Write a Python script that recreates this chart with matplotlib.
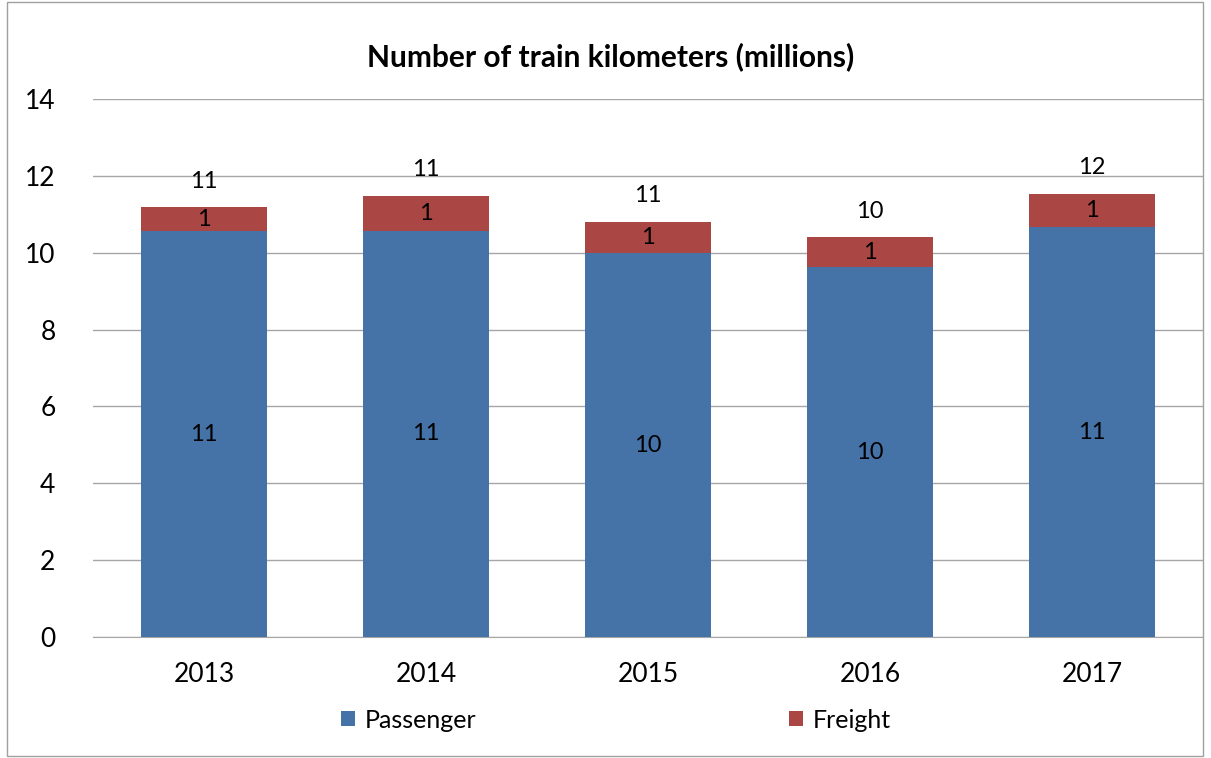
import matplotlib
matplotlib.use("Agg")
import matplotlib.pyplot as plt
from matplotlib.patches import Rectangle

plt.rcParams['font.family'] = ['Lato', 'DejaVu Sans']

years = ['2013', '2014', '2015', '2016', '2017']
passenger = [10.56, 10.57, 9.98, 9.62, 10.66]
freight = [0.62, 0.91, 0.83, 0.78, 0.87]
title = 'Number of train kilometers (millions)'

pass_color = '#4572A7'
freight_color = '#AA4643'

fig = plt.figure(figsize=(12.11, 7.58), dpi=100)
ax = fig.add_axes([93/1211, 1-637/758, (1203-93)/1211, (637-99)/758])

x = list(range(len(years)))
width = 0.57
b1 = ax.bar(x, passenger, width, color=pass_color, label='Passenger', zorder=3)
b2 = ax.bar(x, freight, width, bottom=passenger, color=freight_color, label='Freight',
            zorder=3)

for i in x:
    p = passenger[i]
    f = freight[i]
    t = p + f
    ax.text(i, p / 2, f'{round(p):.0f}', ha='center', va='center', fontsize=17, zorder=4)
    ax.text(i, p + f / 2, f'{max(1, round(f)):.0f}', ha='center', va='center', fontsize=17, zorder=4)
    ax.text(i, t + 0.68, f'{round(t):.0f}', ha='center', va='center', fontsize=17, zorder=4)

ax.set_xlim(-0.5, len(years) - 0.5)
ax.set_ylim(0, 14)
ax.set_yticks(range(0, 15, 2))
ax.set_xticks(x)
ax.set_xticklabels(years)
ax.yaxis.grid(True, color='#A6A6A6', linewidth=1, zorder=0)
ax.set_axisbelow(True)
for s in ['top', 'right', 'left']:
    ax.spines[s].set_visible(False)
ax.spines['bottom'].set_color('#A6A6A6')
ax.tick_params(axis='both', length=0, labelsize=19)
ax.tick_params(axis='y', pad=27)
ax.tick_params(axis='x', pad=18)

fig.text(611/1211, 1-57/758, title, ha='center', va='center', fontsize=21.5, fontweight='bold')

leg = fig.legend(handles=[b1, b2], labels=['Passenger', 'Freight'], loc='center',
                 bbox_to_anchor=(616/1211, 1-720/758), ncol=2, frameon=False,
                 fontsize=18, handlelength=0.55, handleheight=0.55, columnspacing=12.5,
                 handletextpad=0.4)

fig.patches.append(Rectangle((7/1211, 2/758), (1203-7)/1211, (756-2)/758,
                             transform=fig.transFigure, fill=False,
                             edgecolor='#A0A0A0', linewidth=1))

fig.savefig('out.png', dpi=100)
